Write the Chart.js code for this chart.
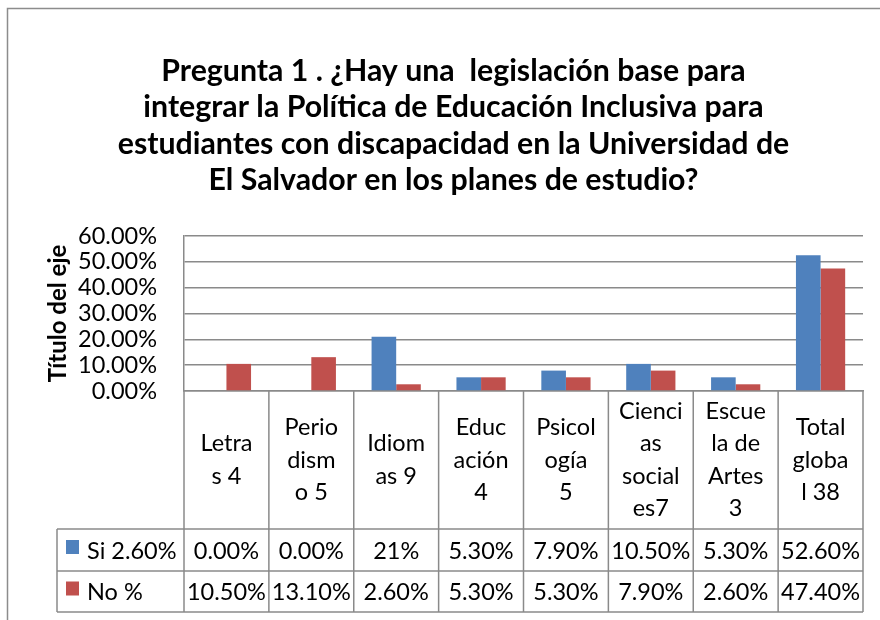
<!DOCTYPE html>
<html><head><meta charset="utf-8">
<script src="https://cdn.jsdelivr.net/npm/chart.js@4"></script>
<style>html,body{margin:0;padding:0;background:#fff}canvas{display:block}</style>
</head><body>
<canvas id="c" width="880" height="620"></canvas>
<script>
const titleLines = [
  "Pregunta 1 . ¿Hay una  legislación base para",
  "integrar la Política de Educación Inclusiva para",
  "estudiantes con discapacidad en la Universidad de",
  "El Salvador en los planes de estudio?"
];
const categories = [
  ["Letra", "s 4"],
  ["Perio", "dism", "o 5"],
  ["Idiom", "as 9"],
  ["Educ", "ación", "4"],
  ["Psicol", "ogía", "5"],
  ["Cienci", "as", "social", "es7"],
  ["Escue", "la de", "Artes", "3"],
  ["Total", "globa", "l 38"]
];
const seriesNames = ["Si 2.60%", "No %"];
const siValues = [0, 0, 21, 5.3, 7.9, 10.5, 5.3, 52.6];
const noValues = [10.5, 13.1, 2.6, 5.3, 5.3, 7.9, 2.6, 47.4];
const siLabels = ["0.00%", "0.00%", "21%", "5.30%", "7.90%", "10.50%", "5.30%", "52.60%"];
const noLabels = ["10.50%", "13.10%", "2.60%", "5.30%", "5.30%", "7.90%", "2.60%", "47.40%"];
const yMin = 0, yMax = 60, yStep = 10;
const yAxisTitle = "Título del eje";

const FONT = 'Lato, "DejaVu Sans", sans-serif';
const BLUE = '#4F81BD', RED = '#C0504D', GRID = '#8a8a8a';
const PAD_LEFT = 44;

const tablePlugin = {
  id: 'dataTable',
  beforeDraw(chart) {
    const ctx = chart.ctx;
    ctx.save();
    ctx.fillStyle = '#fff';
    ctx.fillRect(0, 0, chart.width, chart.height);
    ctx.strokeStyle = '#8c8c8c';
    ctx.lineWidth = 1.5;
    ctx.strokeRect(7.5, 8.5, 900, 700);
    ctx.restore();
  },
  afterDraw(chart) {
    const ctx = chart.ctx, xs = chart.scales.x;
    const labels = chart.data.labels;
    const n = labels.length;
    const top = xs.top, bottom = xs.bottom, h = bottom - top;
    const catBottom = top + h * 138 / 221;
    const siBottom = top + h * 180 / 221;
    const legLeft = 57;
    const cw = xs.width / n;
    ctx.save();
    ctx.strokeStyle = GRID;
    ctx.lineWidth = 1.5;
    ctx.beginPath();
    for (let i = 0; i <= n; i++) {
      const x = xs.left + i * cw;
      ctx.moveTo(x, top); ctx.lineTo(x, bottom);
    }
    ctx.moveTo(legLeft, catBottom); ctx.lineTo(xs.right, catBottom);
    ctx.moveTo(legLeft, siBottom); ctx.lineTo(xs.right, siBottom);
    ctx.moveTo(legLeft, bottom); ctx.lineTo(xs.right, bottom);
    ctx.moveTo(legLeft, catBottom); ctx.lineTo(legLeft, bottom);
    ctx.stroke();

    ctx.fillStyle = '#000';
    ctx.font = '23.5px ' + FONT;
    ctx.textAlign = 'center';
    ctx.textBaseline = 'middle';
    const lh = 32.5;
    const catMid = (top + catBottom) / 2;
    labels.forEach((lines, i) => {
      const cx = xs.left + (i + 0.5) * cw;
      const y0 = catMid - (lines.length - 1) * lh / 2;
      lines.forEach((t, j) => ctx.fillText(t, cx, y0 + j * lh));
    });
    const siMid = (catBottom + siBottom) / 2 + 1;
    const noMid = (siBottom + bottom) / 2 + 1;
    const ds = chart.data.datasets;
    const rowTexts = [siLabels, noLabels];
    const mids = [siMid, noMid];
    rowTexts.forEach((arr, r) => {
      arr.forEach((t, i) => ctx.fillText(t, xs.left + (i + 0.5) * cw, mids[r]));
    });
    ds.forEach((d, r) => {
      ctx.fillStyle = d.backgroundColor;
      ctx.fillRect(66, mids[r] - 11, 13, 14);
      ctx.fillStyle = '#000';
      ctx.textAlign = 'left';
      ctx.fillText(d.label, 87, mids[r]);
    });
    ctx.restore();
  }
};

new Chart(document.getElementById('c'), {
  type: 'bar',
  data: {
    labels: categories,
    datasets: [
      { label: seriesNames[0], data: siValues, backgroundColor: BLUE },
      { label: seriesNames[1], data: noValues, backgroundColor: RED }
    ]
  },
  options: {
    responsive: false,
    animation: false,
    layout: { padding: { left: PAD_LEFT, right: 17, top: 0, bottom: 8 } },
    datasets: { bar: { categoryPercentage: 0.58, barPercentage: 1.0 } },
    plugins: {
      legend: { display: false },
      tooltip: { enabled: false },
      title: {
        display: true,
        text: titleLines,
        color: '#000',
        font: { family: FONT, size: 30.3, weight: 'bold', lineHeight: 1.205 },
        padding: { top: 52.75, bottom: 37.25 }
      }
    },
    scales: {
      x: {
        ticks: { display: false },
        grid: { display: false, drawTicks: false },
        border: { display: true, color: GRID, width: 1.5 },
        afterFit(s) { s.height = 221; }
      },
      y: {
        min: yMin, max: yMax,
        ticks: {
          stepSize: yStep,
          autoSkip: false,
          color: '#000',
          padding: 27,
          font: { family: FONT, size: 23.5 },
          callback: v => v.toFixed(2) + '%'
        },
        grid: { color: GRID, lineWidth: 1.5, drawTicks: false },
        border: { display: true, color: GRID, width: 1.5 },
        title: {
          display: true,
          text: yAxisTitle,
          color: '#000',
          font: { family: FONT, size: 24, weight: 'bold', lineHeight: 1.2 },
          padding: { top: 0, bottom: 0 }
        },
        afterFit(s) { s.width = 184 - PAD_LEFT; }
      }
    }
  },
  plugins: [tablePlugin]
});
</script>
</body></html>
